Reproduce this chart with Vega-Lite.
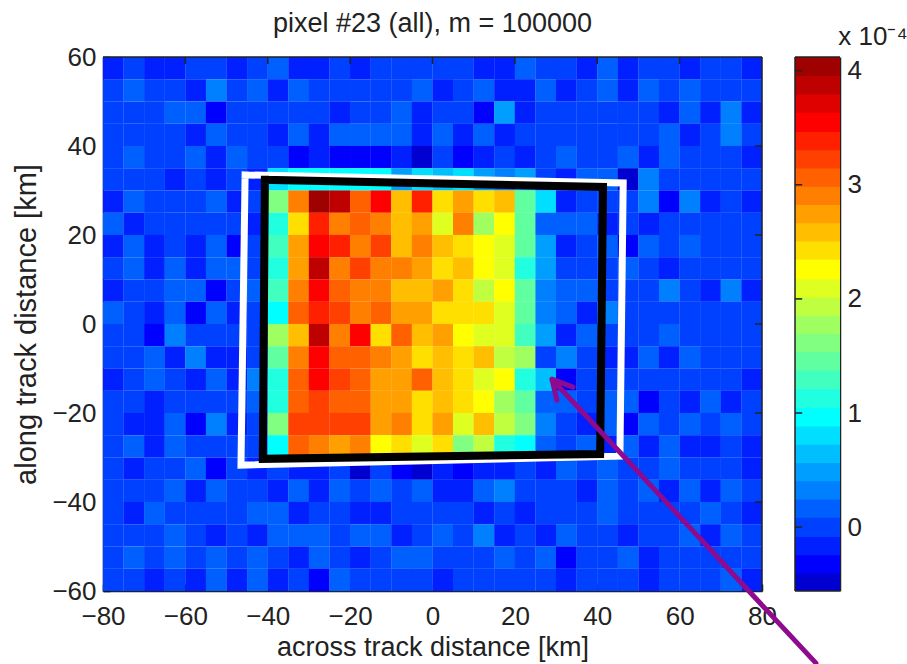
{"$schema":"https://vega.github.io/schema/vega-lite/v6.json","background":"white","padding":{"left":12,"top":10,"right":0,"bottom":0},"bounds":"flush","spacing":33,"config":{"view":{"stroke":null},"font":"Liberation Sans","axis":{"labelFont":"Liberation Sans","titleFont":"Liberation Sans","labelFontSize":26,"titleFontSize":27,"labelColor":"#222222","titleColor":"#222222","titleFontWeight":"normal","domainColor":"#222222","tickColor":"#111111","tickWidth":1.5,"domainWidth":1.5,"grid":false,"zindex":1},"title":{"font":"Liberation Sans","fontSize":27,"fontWeight":"normal","color":"#222222"}},
"hconcat":[{"width":659,"height":534,"title":{"text":"pixel #23 (all), m = 100000","anchor":"middle","offset":6},
"encoding":{"x":{"field":"x","type":"quantitative","scale":{"domain":[-80,80],"nice":false,"zero":false},"axis":{"orient":"bottom","values":[-80,-60,-40,-20,0,20,40,60,80],"tickSize":-7,"title":"across track distance [km]","titlePadding":5,"labelPadding":19,"labelFlush":false}},
"y":{"field":"y","type":"quantitative","scale":{"domain":[-60,60],"nice":false,"zero":false},"axis":{"orient":"left","values":[-60,-40,-20,0,20,40,60],"tickSize":-7,"title":"along track distance [km]","titleFontSize":29,"titlePadding":10,"labelPadding":14}}},
"layer":[
{"data":{"values":[
{"x":-77.5,"y":57.5,"v":-0.16},{"x":-72.5,"y":57.5,"v":0},{"x":-67.5,"y":57.5,"v":-0.16},{"x":-62.5,"y":57.5,"v":-0.16},{"x":-57.5,"y":57.5,"v":0},{"x":-52.5,"y":57.5,"v":0},{"x":-47.5,"y":57.5,"v":-0.16},{"x":-42.5,"y":57.5,"v":0},{"x":-37.5,"y":57.5,"v":0.17},{"x":-32.5,"y":57.5,"v":-0.16},{"x":-27.5,"y":57.5,"v":-0.16},{"x":-22.5,"y":57.5,"v":0},{"x":-17.5,"y":57.5,"v":-0.16},{"x":-12.5,"y":57.5,"v":0},{"x":-7.5,"y":57.5,"v":0},{"x":-2.5,"y":57.5,"v":0},{"x":2.5,"y":57.5,"v":0},{"x":7.5,"y":57.5,"v":0},{"x":12.5,"y":57.5,"v":-0.16},{"x":17.5,"y":57.5,"v":-0.16},{"x":22.5,"y":57.5,"v":0.17},{"x":27.5,"y":57.5,"v":0},{"x":32.5,"y":57.5,"v":0},{"x":37.5,"y":57.5,"v":-0.16},{"x":42.5,"y":57.5,"v":0.17},{"x":47.5,"y":57.5,"v":-0.16},{"x":52.5,"y":57.5,"v":0},{"x":57.5,"y":57.5,"v":0},{"x":62.5,"y":57.5,"v":-0.16},{"x":67.5,"y":57.5,"v":0},{"x":72.5,"y":57.5,"v":0},{"x":77.5,"y":57.5,"v":-0.16},
{"x":-77.5,"y":52.5,"v":0},{"x":-72.5,"y":52.5,"v":0.17},{"x":-67.5,"y":52.5,"v":0},{"x":-62.5,"y":52.5,"v":0},{"x":-57.5,"y":52.5,"v":-0.16},{"x":-52.5,"y":52.5,"v":0.33},{"x":-47.5,"y":52.5,"v":0},{"x":-42.5,"y":52.5,"v":0.17},{"x":-37.5,"y":52.5,"v":-0.16},{"x":-32.5,"y":52.5,"v":0.17},{"x":-27.5,"y":52.5,"v":0},{"x":-22.5,"y":52.5,"v":0},{"x":-17.5,"y":52.5,"v":0},{"x":-12.5,"y":52.5,"v":0},{"x":-7.5,"y":52.5,"v":0},{"x":-2.5,"y":52.5,"v":0.17},{"x":2.5,"y":52.5,"v":-0.16},{"x":7.5,"y":52.5,"v":0},{"x":12.5,"y":52.5,"v":0.17},{"x":17.5,"y":52.5,"v":-0.16},{"x":22.5,"y":52.5,"v":-0.16},{"x":27.5,"y":52.5,"v":0.17},{"x":32.5,"y":52.5,"v":-0.16},{"x":37.5,"y":52.5,"v":0},{"x":42.5,"y":52.5,"v":0.17},{"x":47.5,"y":52.5,"v":-0.16},{"x":52.5,"y":52.5,"v":0.17},{"x":57.5,"y":52.5,"v":0},{"x":62.5,"y":52.5,"v":0.17},{"x":67.5,"y":52.5,"v":0},{"x":72.5,"y":52.5,"v":0},{"x":77.5,"y":52.5,"v":0},
{"x":-77.5,"y":47.5,"v":0},{"x":-72.5,"y":47.5,"v":0},{"x":-67.5,"y":47.5,"v":0},{"x":-62.5,"y":47.5,"v":0.17},{"x":-57.5,"y":47.5,"v":0.17},{"x":-52.5,"y":47.5,"v":-0.32},{"x":-47.5,"y":47.5,"v":0},{"x":-42.5,"y":47.5,"v":0},{"x":-37.5,"y":47.5,"v":0},{"x":-32.5,"y":47.5,"v":0},{"x":-27.5,"y":47.5,"v":0},{"x":-22.5,"y":47.5,"v":-0.16},{"x":-17.5,"y":47.5,"v":0},{"x":-12.5,"y":47.5,"v":0},{"x":-7.5,"y":47.5,"v":0.17},{"x":-2.5,"y":47.5,"v":-0.16},{"x":2.5,"y":47.5,"v":0},{"x":7.5,"y":47.5,"v":0},{"x":12.5,"y":47.5,"v":-0.32},{"x":17.5,"y":47.5,"v":0.49},{"x":22.5,"y":47.5,"v":-0.16},{"x":27.5,"y":47.5,"v":0},{"x":32.5,"y":47.5,"v":0},{"x":37.5,"y":47.5,"v":0},{"x":42.5,"y":47.5,"v":0},{"x":47.5,"y":47.5,"v":0},{"x":52.5,"y":47.5,"v":0},{"x":57.5,"y":47.5,"v":-0.16},{"x":62.5,"y":47.5,"v":0.17},{"x":67.5,"y":47.5,"v":-0.16},{"x":72.5,"y":47.5,"v":0.33},{"x":77.5,"y":47.5,"v":-0.16},
{"x":-77.5,"y":42.5,"v":0},{"x":-72.5,"y":42.5,"v":0},{"x":-67.5,"y":42.5,"v":0},{"x":-62.5,"y":42.5,"v":0},{"x":-57.5,"y":42.5,"v":-0.16},{"x":-52.5,"y":42.5,"v":0.17},{"x":-47.5,"y":42.5,"v":0},{"x":-42.5,"y":42.5,"v":0},{"x":-37.5,"y":42.5,"v":-0.16},{"x":-32.5,"y":42.5,"v":0.17},{"x":-27.5,"y":42.5,"v":-0.16},{"x":-22.5,"y":42.5,"v":0.17},{"x":-17.5,"y":42.5,"v":0.17},{"x":-12.5,"y":42.5,"v":0.17},{"x":-7.5,"y":42.5,"v":0.17},{"x":-2.5,"y":42.5,"v":-0.16},{"x":2.5,"y":42.5,"v":0.17},{"x":7.5,"y":42.5,"v":-0.16},{"x":12.5,"y":42.5,"v":0.17},{"x":17.5,"y":42.5,"v":-0.16},{"x":22.5,"y":42.5,"v":0},{"x":27.5,"y":42.5,"v":0},{"x":32.5,"y":42.5,"v":0},{"x":37.5,"y":42.5,"v":0},{"x":42.5,"y":42.5,"v":0},{"x":47.5,"y":42.5,"v":0},{"x":52.5,"y":42.5,"v":0},{"x":57.5,"y":42.5,"v":0.17},{"x":62.5,"y":42.5,"v":-0.16},{"x":67.5,"y":42.5,"v":0},{"x":72.5,"y":42.5,"v":0.33},{"x":77.5,"y":42.5,"v":0},
{"x":-77.5,"y":37.5,"v":0},{"x":-72.5,"y":37.5,"v":0.17},{"x":-67.5,"y":37.5,"v":0},{"x":-62.5,"y":37.5,"v":0},{"x":-57.5,"y":37.5,"v":0.17},{"x":-52.5,"y":37.5,"v":-0.16},{"x":-47.5,"y":37.5,"v":0.17},{"x":-42.5,"y":37.5,"v":0},{"x":-37.5,"y":37.5,"v":0},{"x":-32.5,"y":37.5,"v":-0.32},{"x":-27.5,"y":37.5,"v":-0.16},{"x":-22.5,"y":37.5,"v":-0.32},{"x":-17.5,"y":37.5,"v":-0.32},{"x":-12.5,"y":37.5,"v":-0.32},{"x":-7.5,"y":37.5,"v":-0.16},{"x":-2.5,"y":37.5,"v":-0.48},{"x":2.5,"y":37.5,"v":0},{"x":7.5,"y":37.5,"v":-0.32},{"x":12.5,"y":37.5,"v":-0.16},{"x":17.5,"y":37.5,"v":0},{"x":22.5,"y":37.5,"v":-0.16},{"x":27.5,"y":37.5,"v":0},{"x":32.5,"y":37.5,"v":0.17},{"x":37.5,"y":37.5,"v":0},{"x":42.5,"y":37.5,"v":0},{"x":47.5,"y":37.5,"v":0.17},{"x":52.5,"y":37.5,"v":-0.16},{"x":57.5,"y":37.5,"v":0.17},{"x":62.5,"y":37.5,"v":0},{"x":67.5,"y":37.5,"v":0},{"x":72.5,"y":37.5,"v":0},{"x":77.5,"y":37.5,"v":-0.16},
{"x":-77.5,"y":32.5,"v":0},{"x":-72.5,"y":32.5,"v":0},{"x":-67.5,"y":32.5,"v":0},{"x":-62.5,"y":32.5,"v":-0.16},{"x":-57.5,"y":32.5,"v":0},{"x":-52.5,"y":32.5,"v":-0.16},{"x":-47.5,"y":32.5,"v":0},{"x":-42.5,"y":32.5,"v":-0.16},{"x":-37.5,"y":32.5,"v":0.81},{"x":-32.5,"y":32.5,"v":0.97},{"x":-27.5,"y":32.5,"v":0.97},{"x":-22.5,"y":32.5,"v":0.97},{"x":-17.5,"y":32.5,"v":0.97},{"x":-12.5,"y":32.5,"v":0.97},{"x":-7.5,"y":32.5,"v":0.49},{"x":-2.5,"y":32.5,"v":0.81},{"x":2.5,"y":32.5,"v":0.65},{"x":7.5,"y":32.5,"v":0.81},{"x":12.5,"y":32.5,"v":0.49},{"x":17.5,"y":32.5,"v":0.33},{"x":22.5,"y":32.5,"v":0.49},{"x":27.5,"y":32.5,"v":0},{"x":32.5,"y":32.5,"v":-0.16},{"x":37.5,"y":32.5,"v":0.17},{"x":42.5,"y":32.5,"v":0.17},{"x":47.5,"y":32.5,"v":-0.48},{"x":52.5,"y":32.5,"v":0.33},{"x":57.5,"y":32.5,"v":0},{"x":62.5,"y":32.5,"v":0},{"x":67.5,"y":32.5,"v":0},{"x":72.5,"y":32.5,"v":0},{"x":77.5,"y":32.5,"v":0},
{"x":-77.5,"y":27.5,"v":-0.16},{"x":-72.5,"y":27.5,"v":0.17},{"x":-67.5,"y":27.5,"v":0},{"x":-62.5,"y":27.5,"v":0},{"x":-57.5,"y":27.5,"v":0},{"x":-52.5,"y":27.5,"v":0.17},{"x":-47.5,"y":27.5,"v":-0.16},{"x":-42.5,"y":27.5,"v":0},{"x":-37.5,"y":27.5,"v":1.62},{"x":-32.5,"y":27.5,"v":2.91},{"x":-27.5,"y":27.5,"v":4.04},{"x":-22.5,"y":27.5,"v":3.88},{"x":-17.5,"y":27.5,"v":3.07},{"x":-12.5,"y":27.5,"v":3.55},{"x":-7.5,"y":27.5,"v":2.59},{"x":-2.5,"y":27.5,"v":3.39},{"x":2.5,"y":27.5,"v":2.43},{"x":7.5,"y":27.5,"v":2.75},{"x":12.5,"y":27.5,"v":2.43},{"x":17.5,"y":27.5,"v":2.59},{"x":22.5,"y":27.5,"v":1.46},{"x":27.5,"y":27.5,"v":0.81},{"x":32.5,"y":27.5,"v":-0.16},{"x":37.5,"y":27.5,"v":0},{"x":42.5,"y":27.5,"v":0},{"x":47.5,"y":27.5,"v":0},{"x":52.5,"y":27.5,"v":0.33},{"x":57.5,"y":27.5,"v":-0.32},{"x":62.5,"y":27.5,"v":0.33},{"x":67.5,"y":27.5,"v":-0.16},{"x":72.5,"y":27.5,"v":0},{"x":77.5,"y":27.5,"v":-0.16},
{"x":-77.5,"y":22.5,"v":0.17},{"x":-72.5,"y":22.5,"v":-0.16},{"x":-67.5,"y":22.5,"v":0},{"x":-62.5,"y":22.5,"v":0},{"x":-57.5,"y":22.5,"v":0},{"x":-52.5,"y":22.5,"v":0},{"x":-47.5,"y":22.5,"v":0},{"x":-42.5,"y":22.5,"v":-0.16},{"x":-37.5,"y":22.5,"v":1.13},{"x":-32.5,"y":22.5,"v":2.43},{"x":-27.5,"y":22.5,"v":3.39},{"x":-22.5,"y":22.5,"v":2.91},{"x":-17.5,"y":22.5,"v":3.07},{"x":-12.5,"y":22.5,"v":2.91},{"x":-7.5,"y":22.5,"v":2.59},{"x":-2.5,"y":22.5,"v":2.75},{"x":2.5,"y":22.5,"v":2.1},{"x":7.5,"y":22.5,"v":2.91},{"x":12.5,"y":22.5,"v":1.78},{"x":17.5,"y":22.5,"v":2.26},{"x":22.5,"y":22.5,"v":1.46},{"x":27.5,"y":22.5,"v":0.17},{"x":32.5,"y":22.5,"v":0.17},{"x":37.5,"y":22.5,"v":0.17},{"x":42.5,"y":22.5,"v":-0.16},{"x":47.5,"y":22.5,"v":0},{"x":52.5,"y":22.5,"v":-0.16},{"x":57.5,"y":22.5,"v":0},{"x":62.5,"y":22.5,"v":0},{"x":67.5,"y":22.5,"v":0},{"x":72.5,"y":22.5,"v":0},{"x":77.5,"y":22.5,"v":0},
{"x":-77.5,"y":17.5,"v":-0.16},{"x":-72.5,"y":17.5,"v":0.17},{"x":-67.5,"y":17.5,"v":-0.16},{"x":-62.5,"y":17.5,"v":0},{"x":-57.5,"y":17.5,"v":-0.16},{"x":-52.5,"y":17.5,"v":0.17},{"x":-47.5,"y":17.5,"v":-0.32},{"x":-42.5,"y":17.5,"v":0},{"x":-37.5,"y":17.5,"v":1.3},{"x":-32.5,"y":17.5,"v":2.75},{"x":-27.5,"y":17.5,"v":3.55},{"x":-22.5,"y":17.5,"v":3.39},{"x":-17.5,"y":17.5,"v":2.91},{"x":-12.5,"y":17.5,"v":3.23},{"x":-7.5,"y":17.5,"v":2.59},{"x":-2.5,"y":17.5,"v":2.91},{"x":2.5,"y":17.5,"v":2.59},{"x":7.5,"y":17.5,"v":2.43},{"x":12.5,"y":17.5,"v":2.26},{"x":17.5,"y":17.5,"v":2.1},{"x":22.5,"y":17.5,"v":1.46},{"x":27.5,"y":17.5,"v":0.49},{"x":32.5,"y":17.5,"v":-0.16},{"x":37.5,"y":17.5,"v":0},{"x":42.5,"y":17.5,"v":0.17},{"x":47.5,"y":17.5,"v":-0.32},{"x":52.5,"y":17.5,"v":0.17},{"x":57.5,"y":17.5,"v":0},{"x":62.5,"y":17.5,"v":0.17},{"x":67.5,"y":17.5,"v":0},{"x":72.5,"y":17.5,"v":0},{"x":77.5,"y":17.5,"v":0},
{"x":-77.5,"y":12.5,"v":0},{"x":-72.5,"y":12.5,"v":0.17},{"x":-67.5,"y":12.5,"v":-0.16},{"x":-62.5,"y":12.5,"v":0.17},{"x":-57.5,"y":12.5,"v":-0.16},{"x":-52.5,"y":12.5,"v":0.17},{"x":-47.5,"y":12.5,"v":0.17},{"x":-42.5,"y":12.5,"v":0},{"x":-37.5,"y":12.5,"v":1.13},{"x":-32.5,"y":12.5,"v":2.75},{"x":-27.5,"y":12.5,"v":3.88},{"x":-22.5,"y":12.5,"v":2.91},{"x":-17.5,"y":12.5,"v":3.23},{"x":-12.5,"y":12.5,"v":2.91},{"x":-7.5,"y":12.5,"v":2.91},{"x":-2.5,"y":12.5,"v":2.75},{"x":2.5,"y":12.5,"v":2.43},{"x":7.5,"y":12.5,"v":2.59},{"x":12.5,"y":12.5,"v":2.26},{"x":17.5,"y":12.5,"v":2.1},{"x":22.5,"y":12.5,"v":1.13},{"x":27.5,"y":12.5,"v":0.49},{"x":32.5,"y":12.5,"v":0},{"x":37.5,"y":12.5,"v":0},{"x":42.5,"y":12.5,"v":0},{"x":47.5,"y":12.5,"v":0.17},{"x":52.5,"y":12.5,"v":0},{"x":57.5,"y":12.5,"v":-0.16},{"x":62.5,"y":12.5,"v":0},{"x":67.5,"y":12.5,"v":0},{"x":72.5,"y":12.5,"v":0},{"x":77.5,"y":12.5,"v":0},
{"x":-77.5,"y":7.5,"v":-0.16},{"x":-72.5,"y":7.5,"v":0},{"x":-67.5,"y":7.5,"v":0},{"x":-62.5,"y":7.5,"v":0.17},{"x":-57.5,"y":7.5,"v":0.17},{"x":-52.5,"y":7.5,"v":-0.32},{"x":-47.5,"y":7.5,"v":0},{"x":-42.5,"y":7.5,"v":0.17},{"x":-37.5,"y":7.5,"v":1.3},{"x":-32.5,"y":7.5,"v":2.91},{"x":-27.5,"y":7.5,"v":3.55},{"x":-22.5,"y":7.5,"v":3.07},{"x":-17.5,"y":7.5,"v":2.91},{"x":-12.5,"y":7.5,"v":2.91},{"x":-7.5,"y":7.5,"v":2.59},{"x":-2.5,"y":7.5,"v":2.59},{"x":2.5,"y":7.5,"v":2.75},{"x":7.5,"y":7.5,"v":2.43},{"x":12.5,"y":7.5,"v":1.94},{"x":17.5,"y":7.5,"v":2.26},{"x":22.5,"y":7.5,"v":1.46},{"x":27.5,"y":7.5,"v":0.33},{"x":32.5,"y":7.5,"v":0.17},{"x":37.5,"y":7.5,"v":0.17},{"x":42.5,"y":7.5,"v":0},{"x":47.5,"y":7.5,"v":0},{"x":52.5,"y":7.5,"v":0},{"x":57.5,"y":7.5,"v":0.33},{"x":62.5,"y":7.5,"v":0},{"x":67.5,"y":7.5,"v":-0.16},{"x":72.5,"y":7.5,"v":0.33},{"x":77.5,"y":7.5,"v":-0.16},
{"x":-77.5,"y":2.5,"v":0.17},{"x":-72.5,"y":2.5,"v":0},{"x":-67.5,"y":2.5,"v":-0.16},{"x":-62.5,"y":2.5,"v":0.17},{"x":-57.5,"y":2.5,"v":-0.32},{"x":-52.5,"y":2.5,"v":0.17},{"x":-47.5,"y":2.5,"v":-0.16},{"x":-42.5,"y":2.5,"v":0},{"x":-37.5,"y":2.5,"v":0.97},{"x":-32.5,"y":2.5,"v":3.07},{"x":-27.5,"y":2.5,"v":3.39},{"x":-22.5,"y":2.5,"v":3.23},{"x":-17.5,"y":2.5,"v":2.91},{"x":-12.5,"y":2.5,"v":3.07},{"x":-7.5,"y":2.5,"v":2.75},{"x":-2.5,"y":2.5,"v":2.75},{"x":2.5,"y":2.5,"v":2.43},{"x":7.5,"y":2.5,"v":2.43},{"x":12.5,"y":2.5,"v":2.43},{"x":17.5,"y":2.5,"v":2.1},{"x":22.5,"y":2.5,"v":1.46},{"x":27.5,"y":2.5,"v":0.33},{"x":32.5,"y":2.5,"v":0.17},{"x":37.5,"y":2.5,"v":-0.16},{"x":42.5,"y":2.5,"v":0.33},{"x":47.5,"y":2.5,"v":0},{"x":52.5,"y":2.5,"v":0},{"x":57.5,"y":2.5,"v":0},{"x":62.5,"y":2.5,"v":0},{"x":67.5,"y":2.5,"v":0},{"x":72.5,"y":2.5,"v":0},{"x":77.5,"y":2.5,"v":0},
{"x":-77.5,"y":-2.5,"v":0},{"x":-72.5,"y":-2.5,"v":0},{"x":-67.5,"y":-2.5,"v":-0.32},{"x":-62.5,"y":-2.5,"v":0.33},{"x":-57.5,"y":-2.5,"v":0},{"x":-52.5,"y":-2.5,"v":0},{"x":-47.5,"y":-2.5,"v":0},{"x":-42.5,"y":-2.5,"v":0},{"x":-37.5,"y":-2.5,"v":1.78},{"x":-32.5,"y":-2.5,"v":2.59},{"x":-27.5,"y":-2.5,"v":3.88},{"x":-22.5,"y":-2.5,"v":2.91},{"x":-17.5,"y":-2.5,"v":3.55},{"x":-12.5,"y":-2.5,"v":2.43},{"x":-7.5,"y":-2.5,"v":3.07},{"x":-2.5,"y":-2.5,"v":2.59},{"x":2.5,"y":-2.5,"v":2.75},{"x":7.5,"y":-2.5,"v":2.26},{"x":12.5,"y":-2.5,"v":2.1},{"x":17.5,"y":-2.5,"v":2.1},{"x":22.5,"y":-2.5,"v":1.3},{"x":27.5,"y":-2.5,"v":0.49},{"x":32.5,"y":-2.5,"v":-0.16},{"x":37.5,"y":-2.5,"v":0.17},{"x":42.5,"y":-2.5,"v":0},{"x":47.5,"y":-2.5,"v":0},{"x":52.5,"y":-2.5,"v":0},{"x":57.5,"y":-2.5,"v":0.17},{"x":62.5,"y":-2.5,"v":0},{"x":67.5,"y":-2.5,"v":0},{"x":72.5,"y":-2.5,"v":0},{"x":77.5,"y":-2.5,"v":0},
{"x":-77.5,"y":-7.5,"v":0},{"x":-72.5,"y":-7.5,"v":0},{"x":-67.5,"y":-7.5,"v":0.17},{"x":-62.5,"y":-7.5,"v":-0.16},{"x":-57.5,"y":-7.5,"v":0.33},{"x":-52.5,"y":-7.5,"v":-0.16},{"x":-47.5,"y":-7.5,"v":-0.16},{"x":-42.5,"y":-7.5,"v":0},{"x":-37.5,"y":-7.5,"v":1.46},{"x":-32.5,"y":-7.5,"v":2.91},{"x":-27.5,"y":-7.5,"v":3.55},{"x":-22.5,"y":-7.5,"v":3.07},{"x":-17.5,"y":-7.5,"v":3.07},{"x":-12.5,"y":-7.5,"v":2.91},{"x":-7.5,"y":-7.5,"v":2.75},{"x":-2.5,"y":-7.5,"v":2.43},{"x":2.5,"y":-7.5,"v":2.59},{"x":7.5,"y":-7.5,"v":2.43},{"x":12.5,"y":-7.5,"v":2.59},{"x":17.5,"y":-7.5,"v":1.94},{"x":22.5,"y":-7.5,"v":1.78},{"x":27.5,"y":-7.5,"v":0},{"x":32.5,"y":-7.5,"v":0.33},{"x":37.5,"y":-7.5,"v":0},{"x":42.5,"y":-7.5,"v":-0.16},{"x":47.5,"y":-7.5,"v":-0.16},{"x":52.5,"y":-7.5,"v":0.17},{"x":57.5,"y":-7.5,"v":-0.16},{"x":62.5,"y":-7.5,"v":0.17},{"x":67.5,"y":-7.5,"v":0},{"x":72.5,"y":-7.5,"v":0},{"x":77.5,"y":-7.5,"v":0},
{"x":-77.5,"y":-12.5,"v":-0.16},{"x":-72.5,"y":-12.5,"v":0},{"x":-67.5,"y":-12.5,"v":0.17},{"x":-62.5,"y":-12.5,"v":0},{"x":-57.5,"y":-12.5,"v":-0.16},{"x":-52.5,"y":-12.5,"v":0.17},{"x":-47.5,"y":-12.5,"v":-0.16},{"x":-42.5,"y":-12.5,"v":0.33},{"x":-37.5,"y":-12.5,"v":1.13},{"x":-32.5,"y":-12.5,"v":3.07},{"x":-27.5,"y":-12.5,"v":3.55},{"x":-22.5,"y":-12.5,"v":3.23},{"x":-17.5,"y":-12.5,"v":3.07},{"x":-12.5,"y":-12.5,"v":2.75},{"x":-7.5,"y":-12.5,"v":2.75},{"x":-2.5,"y":-12.5,"v":3.07},{"x":2.5,"y":-12.5,"v":2.59},{"x":7.5,"y":-12.5,"v":2.43},{"x":12.5,"y":-12.5,"v":2.1},{"x":17.5,"y":-12.5,"v":2.26},{"x":22.5,"y":-12.5,"v":1.13},{"x":27.5,"y":-12.5,"v":0.65},{"x":32.5,"y":-12.5,"v":-0.32},{"x":37.5,"y":-12.5,"v":0},{"x":42.5,"y":-12.5,"v":0},{"x":47.5,"y":-12.5,"v":0},{"x":52.5,"y":-12.5,"v":0},{"x":57.5,"y":-12.5,"v":0},{"x":62.5,"y":-12.5,"v":0},{"x":67.5,"y":-12.5,"v":0},{"x":72.5,"y":-12.5,"v":0},{"x":77.5,"y":-12.5,"v":-0.16},
{"x":-77.5,"y":-17.5,"v":0},{"x":-72.5,"y":-17.5,"v":0},{"x":-67.5,"y":-17.5,"v":-0.16},{"x":-62.5,"y":-17.5,"v":0},{"x":-57.5,"y":-17.5,"v":0},{"x":-52.5,"y":-17.5,"v":0},{"x":-47.5,"y":-17.5,"v":0},{"x":-42.5,"y":-17.5,"v":0.17},{"x":-37.5,"y":-17.5,"v":1.13},{"x":-32.5,"y":-17.5,"v":3.07},{"x":-27.5,"y":-17.5,"v":3.23},{"x":-22.5,"y":-17.5,"v":3.07},{"x":-17.5,"y":-17.5,"v":3.07},{"x":-12.5,"y":-17.5,"v":2.75},{"x":-7.5,"y":-17.5,"v":2.75},{"x":-2.5,"y":-17.5,"v":2.43},{"x":2.5,"y":-17.5,"v":2.59},{"x":7.5,"y":-17.5,"v":2.43},{"x":12.5,"y":-17.5,"v":2.26},{"x":17.5,"y":-17.5,"v":1.78},{"x":22.5,"y":-17.5,"v":1.46},{"x":27.5,"y":-17.5,"v":0.17},{"x":32.5,"y":-17.5,"v":0.17},{"x":37.5,"y":-17.5,"v":0},{"x":42.5,"y":-17.5,"v":0.17},{"x":47.5,"y":-17.5,"v":0.17},{"x":52.5,"y":-17.5,"v":-0.32},{"x":57.5,"y":-17.5,"v":0},{"x":62.5,"y":-17.5,"v":-0.16},{"x":67.5,"y":-17.5,"v":0.17},{"x":72.5,"y":-17.5,"v":-0.16},{"x":77.5,"y":-17.5,"v":0},
{"x":-77.5,"y":-22.5,"v":0},{"x":-72.5,"y":-22.5,"v":-0.16},{"x":-67.5,"y":-22.5,"v":-0.16},{"x":-62.5,"y":-22.5,"v":0.17},{"x":-57.5,"y":-22.5,"v":-0.32},{"x":-52.5,"y":-22.5,"v":0.33},{"x":-47.5,"y":-22.5,"v":-0.16},{"x":-42.5,"y":-22.5,"v":0},{"x":-37.5,"y":-22.5,"v":1.62},{"x":-32.5,"y":-22.5,"v":3.23},{"x":-27.5,"y":-22.5,"v":3.23},{"x":-22.5,"y":-22.5,"v":3.23},{"x":-17.5,"y":-22.5,"v":3.23},{"x":-12.5,"y":-22.5,"v":2.75},{"x":-7.5,"y":-22.5,"v":2.91},{"x":-2.5,"y":-22.5,"v":2.43},{"x":2.5,"y":-22.5,"v":2.75},{"x":7.5,"y":-22.5,"v":2.1},{"x":12.5,"y":-22.5,"v":2.59},{"x":17.5,"y":-22.5,"v":1.94},{"x":22.5,"y":-22.5,"v":1.62},{"x":27.5,"y":-22.5,"v":0.33},{"x":32.5,"y":-22.5,"v":0},{"x":37.5,"y":-22.5,"v":-0.16},{"x":42.5,"y":-22.5,"v":0.17},{"x":47.5,"y":-22.5,"v":-0.32},{"x":52.5,"y":-22.5,"v":0.17},{"x":57.5,"y":-22.5,"v":0},{"x":62.5,"y":-22.5,"v":0.17},{"x":67.5,"y":-22.5,"v":0},{"x":72.5,"y":-22.5,"v":0.17},{"x":77.5,"y":-22.5,"v":0},
{"x":-77.5,"y":-27.5,"v":0},{"x":-72.5,"y":-27.5,"v":0.17},{"x":-67.5,"y":-27.5,"v":-0.16},{"x":-62.5,"y":-27.5,"v":0.17},{"x":-57.5,"y":-27.5,"v":0},{"x":-52.5,"y":-27.5,"v":0},{"x":-47.5,"y":-27.5,"v":0},{"x":-42.5,"y":-27.5,"v":0},{"x":-37.5,"y":-27.5,"v":0.97},{"x":-32.5,"y":-27.5,"v":3.07},{"x":-27.5,"y":-27.5,"v":2.91},{"x":-22.5,"y":-27.5,"v":2.75},{"x":-17.5,"y":-27.5,"v":2.91},{"x":-12.5,"y":-27.5,"v":2.26},{"x":-7.5,"y":-27.5,"v":2.43},{"x":-2.5,"y":-27.5,"v":2.1},{"x":2.5,"y":-27.5,"v":2.43},{"x":7.5,"y":-27.5,"v":1.62},{"x":12.5,"y":-27.5,"v":1.94},{"x":17.5,"y":-27.5,"v":1.13},{"x":22.5,"y":-27.5,"v":0.97},{"x":27.5,"y":-27.5,"v":0.17},{"x":32.5,"y":-27.5,"v":0},{"x":37.5,"y":-27.5,"v":0.17},{"x":42.5,"y":-27.5,"v":-0.16},{"x":47.5,"y":-27.5,"v":0.17},{"x":52.5,"y":-27.5,"v":-0.16},{"x":57.5,"y":-27.5,"v":0.17},{"x":62.5,"y":-27.5,"v":-0.16},{"x":67.5,"y":-27.5,"v":-0.16},{"x":72.5,"y":-27.5,"v":0},{"x":77.5,"y":-27.5,"v":-0.16},
{"x":-77.5,"y":-32.5,"v":0},{"x":-72.5,"y":-32.5,"v":-0.16},{"x":-67.5,"y":-32.5,"v":0},{"x":-62.5,"y":-32.5,"v":0},{"x":-57.5,"y":-32.5,"v":0.17},{"x":-52.5,"y":-32.5,"v":-0.32},{"x":-47.5,"y":-32.5,"v":0},{"x":-42.5,"y":-32.5,"v":-0.16},{"x":-37.5,"y":-32.5,"v":0},{"x":-32.5,"y":-32.5,"v":-0.16},{"x":-27.5,"y":-32.5,"v":-0.16},{"x":-22.5,"y":-32.5,"v":0},{"x":-17.5,"y":-32.5,"v":-0.48},{"x":-12.5,"y":-32.5,"v":0},{"x":-7.5,"y":-32.5,"v":-0.32},{"x":-2.5,"y":-32.5,"v":-0.48},{"x":2.5,"y":-32.5,"v":-0.16},{"x":7.5,"y":-32.5,"v":-0.32},{"x":12.5,"y":-32.5,"v":-0.16},{"x":17.5,"y":-32.5,"v":-0.16},{"x":22.5,"y":-32.5,"v":0},{"x":27.5,"y":-32.5,"v":-0.16},{"x":32.5,"y":-32.5,"v":0.17},{"x":37.5,"y":-32.5,"v":0},{"x":42.5,"y":-32.5,"v":0.17},{"x":47.5,"y":-32.5,"v":0},{"x":52.5,"y":-32.5,"v":0},{"x":57.5,"y":-32.5,"v":0.17},{"x":62.5,"y":-32.5,"v":0},{"x":67.5,"y":-32.5,"v":0},{"x":72.5,"y":-32.5,"v":0},{"x":77.5,"y":-32.5,"v":-0.16},
{"x":-77.5,"y":-37.5,"v":0},{"x":-72.5,"y":-37.5,"v":0},{"x":-67.5,"y":-37.5,"v":0},{"x":-62.5,"y":-37.5,"v":0.17},{"x":-57.5,"y":-37.5,"v":-0.16},{"x":-52.5,"y":-37.5,"v":0.17},{"x":-47.5,"y":-37.5,"v":0},{"x":-42.5,"y":-37.5,"v":0},{"x":-37.5,"y":-37.5,"v":-0.16},{"x":-32.5,"y":-37.5,"v":0.17},{"x":-27.5,"y":-37.5,"v":-0.16},{"x":-22.5,"y":-37.5,"v":0.17},{"x":-17.5,"y":-37.5,"v":0},{"x":-12.5,"y":-37.5,"v":0.17},{"x":-7.5,"y":-37.5,"v":0},{"x":-2.5,"y":-37.5,"v":0.17},{"x":2.5,"y":-37.5,"v":-0.16},{"x":7.5,"y":-37.5,"v":-0.16},{"x":12.5,"y":-37.5,"v":0.17},{"x":17.5,"y":-37.5,"v":0.33},{"x":22.5,"y":-37.5,"v":0},{"x":27.5,"y":-37.5,"v":0},{"x":32.5,"y":-37.5,"v":0},{"x":37.5,"y":-37.5,"v":-0.16},{"x":42.5,"y":-37.5,"v":0.17},{"x":47.5,"y":-37.5,"v":0},{"x":52.5,"y":-37.5,"v":0.17},{"x":57.5,"y":-37.5,"v":-0.16},{"x":62.5,"y":-37.5,"v":0.17},{"x":67.5,"y":-37.5,"v":-0.16},{"x":72.5,"y":-37.5,"v":0.17},{"x":77.5,"y":-37.5,"v":0},
{"x":-77.5,"y":-42.5,"v":0},{"x":-72.5,"y":-42.5,"v":-0.16},{"x":-67.5,"y":-42.5,"v":0.17},{"x":-62.5,"y":-42.5,"v":0},{"x":-57.5,"y":-42.5,"v":0},{"x":-52.5,"y":-42.5,"v":0},{"x":-47.5,"y":-42.5,"v":0},{"x":-42.5,"y":-42.5,"v":0.17},{"x":-37.5,"y":-42.5,"v":0.17},{"x":-32.5,"y":-42.5,"v":-0.16},{"x":-27.5,"y":-42.5,"v":0},{"x":-22.5,"y":-42.5,"v":0},{"x":-17.5,"y":-42.5,"v":-0.16},{"x":-12.5,"y":-42.5,"v":-0.16},{"x":-7.5,"y":-42.5,"v":0},{"x":-2.5,"y":-42.5,"v":0},{"x":2.5,"y":-42.5,"v":0},{"x":7.5,"y":-42.5,"v":0},{"x":12.5,"y":-42.5,"v":-0.16},{"x":17.5,"y":-42.5,"v":0},{"x":22.5,"y":-42.5,"v":-0.16},{"x":27.5,"y":-42.5,"v":0},{"x":32.5,"y":-42.5,"v":0},{"x":37.5,"y":-42.5,"v":0},{"x":42.5,"y":-42.5,"v":0.17},{"x":47.5,"y":-42.5,"v":0},{"x":52.5,"y":-42.5,"v":0},{"x":57.5,"y":-42.5,"v":0},{"x":62.5,"y":-42.5,"v":0},{"x":67.5,"y":-42.5,"v":0.17},{"x":72.5,"y":-42.5,"v":0},{"x":77.5,"y":-42.5,"v":-0.16},
{"x":-77.5,"y":-47.5,"v":0},{"x":-72.5,"y":-47.5,"v":0},{"x":-67.5,"y":-47.5,"v":0},{"x":-62.5,"y":-47.5,"v":0.17},{"x":-57.5,"y":-47.5,"v":0},{"x":-52.5,"y":-47.5,"v":-0.16},{"x":-47.5,"y":-47.5,"v":0},{"x":-42.5,"y":-47.5,"v":-0.16},{"x":-37.5,"y":-47.5,"v":0.17},{"x":-32.5,"y":-47.5,"v":0.17},{"x":-27.5,"y":-47.5,"v":0.17},{"x":-22.5,"y":-47.5,"v":0},{"x":-17.5,"y":-47.5,"v":0.17},{"x":-12.5,"y":-47.5,"v":0.17},{"x":-7.5,"y":-47.5,"v":-0.16},{"x":-2.5,"y":-47.5,"v":0},{"x":2.5,"y":-47.5,"v":0.17},{"x":7.5,"y":-47.5,"v":0},{"x":12.5,"y":-47.5,"v":0.33},{"x":17.5,"y":-47.5,"v":-0.16},{"x":22.5,"y":-47.5,"v":0},{"x":27.5,"y":-47.5,"v":-0.16},{"x":32.5,"y":-47.5,"v":0.17},{"x":37.5,"y":-47.5,"v":0},{"x":42.5,"y":-47.5,"v":0},{"x":47.5,"y":-47.5,"v":-0.16},{"x":52.5,"y":-47.5,"v":0},{"x":57.5,"y":-47.5,"v":0},{"x":62.5,"y":-47.5,"v":0.17},{"x":67.5,"y":-47.5,"v":-0.16},{"x":72.5,"y":-47.5,"v":0.17},{"x":77.5,"y":-47.5,"v":0},
{"x":-77.5,"y":-52.5,"v":0},{"x":-72.5,"y":-52.5,"v":0.17},{"x":-67.5,"y":-52.5,"v":0},{"x":-62.5,"y":-52.5,"v":0.17},{"x":-57.5,"y":-52.5,"v":0},{"x":-52.5,"y":-52.5,"v":0.17},{"x":-47.5,"y":-52.5,"v":0},{"x":-42.5,"y":-52.5,"v":0.17},{"x":-37.5,"y":-52.5,"v":0},{"x":-32.5,"y":-52.5,"v":-0.16},{"x":-27.5,"y":-52.5,"v":0.17},{"x":-22.5,"y":-52.5,"v":0},{"x":-17.5,"y":-52.5,"v":-0.16},{"x":-12.5,"y":-52.5,"v":0},{"x":-7.5,"y":-52.5,"v":0.17},{"x":-2.5,"y":-52.5,"v":0.17},{"x":2.5,"y":-52.5,"v":0},{"x":7.5,"y":-52.5,"v":0},{"x":12.5,"y":-52.5,"v":0},{"x":17.5,"y":-52.5,"v":0.17},{"x":22.5,"y":-52.5,"v":0},{"x":27.5,"y":-52.5,"v":0.17},{"x":32.5,"y":-52.5,"v":-0.32},{"x":37.5,"y":-52.5,"v":0},{"x":42.5,"y":-52.5,"v":0},{"x":47.5,"y":-52.5,"v":0.17},{"x":52.5,"y":-52.5,"v":-0.16},{"x":57.5,"y":-52.5,"v":0},{"x":62.5,"y":-52.5,"v":0},{"x":67.5,"y":-52.5,"v":0},{"x":72.5,"y":-52.5,"v":0},{"x":77.5,"y":-52.5,"v":0},
{"x":-77.5,"y":-57.5,"v":0},{"x":-72.5,"y":-57.5,"v":0},{"x":-67.5,"y":-57.5,"v":-0.16},{"x":-62.5,"y":-57.5,"v":0},{"x":-57.5,"y":-57.5,"v":-0.16},{"x":-52.5,"y":-57.5,"v":0.17},{"x":-47.5,"y":-57.5,"v":-0.16},{"x":-42.5,"y":-57.5,"v":0.17},{"x":-37.5,"y":-57.5,"v":-0.16},{"x":-32.5,"y":-57.5,"v":0},{"x":-27.5,"y":-57.5,"v":-0.32},{"x":-22.5,"y":-57.5,"v":0.17},{"x":-17.5,"y":-57.5,"v":0},{"x":-12.5,"y":-57.5,"v":0},{"x":-7.5,"y":-57.5,"v":0},{"x":-2.5,"y":-57.5,"v":0},{"x":2.5,"y":-57.5,"v":-0.16},{"x":7.5,"y":-57.5,"v":0},{"x":12.5,"y":-57.5,"v":0},{"x":17.5,"y":-57.5,"v":0},{"x":22.5,"y":-57.5,"v":0},{"x":27.5,"y":-57.5,"v":0},{"x":32.5,"y":-57.5,"v":-0.16},{"x":37.5,"y":-57.5,"v":0},{"x":42.5,"y":-57.5,"v":0},{"x":47.5,"y":-57.5,"v":0},{"x":52.5,"y":-57.5,"v":-0.16},{"x":57.5,"y":-57.5,"v":0},{"x":62.5,"y":-57.5,"v":0},{"x":67.5,"y":-57.5,"v":0},{"x":72.5,"y":-57.5,"v":0.17},{"x":77.5,"y":-57.5,"v":-0.16}
]},"mark":{"type":"rect","width":20.8,"height":22.4},"encoding":{
"color":{"field":"v","type":"quantitative","scale":{"type":"quantize","domain":[-0.56,4.12],"range":["#0000D0","#0000FF","#0020FF","#0040FF","#0060FF","#0080FF","#009FFF","#00BFFF","#00DFFF","#00FFFF","#20FFDF","#40FFBF","#60FFA0","#80FF80","#9FFF60","#BFFF40","#DFFF20","#FFFF00","#FFDF00","#FFBF00","#FF9F00","#FF8000","#FF6000","#FF4000","#FF2000","#FF0000","#DF0000","#BF0000","#9F0000"]},"legend":null}}},
{"data":{"values":[{"i":0,"x":-45.5,"y":33.5},{"i":1,"x":46.3,"y":31.7},{"i":2,"x":45.5,"y":-29.7},{"i":3,"x":-46.5,"y":-31.7},{"i":4,"x":-45.5,"y":33.5}]},"mark":{"type":"line","color":"white","strokeWidth":7,"strokeCap":"square","strokeJoin":"miter"},"encoding":{"order":{"field":"i"}}},
{"data":{"values":[{"i":0,"x":-40.7,"y":32.4},{"i":1,"x":41.4,"y":30.8},{"i":2,"x":40.7,"y":-29.2},{"i":3,"x":-41.2,"y":-30.3},{"i":4,"x":-40.7,"y":32.4}]},"mark":{"type":"line","color":"black","strokeWidth":8,"strokeCap":"square","strokeJoin":"miter"},"encoding":{"order":{"field":"i"}}},
{"data":{"values":[{"x":-80,"x2":80,"y":60,"y2":60},{"x":80,"x2":80,"y":-60,"y2":60},{"x":-60,"x2":-60,"y":60,"y2":58.4},{"x":-40,"x2":-40,"y":60,"y2":58.4},{"x":-20,"x2":-20,"y":60,"y2":58.4},{"x":0,"x2":0,"y":60,"y2":58.4},{"x":20,"x2":20,"y":60,"y2":58.4},{"x":40,"x2":40,"y":60,"y2":58.4},{"x":60,"x2":60,"y":60,"y2":58.4},{"x":80,"x2":78.3,"y":-40,"y2":-40},{"x":80,"x2":78.3,"y":-20,"y2":-20},{"x":80,"x2":78.3,"y":0,"y2":0},{"x":80,"x2":78.3,"y":20,"y2":20},{"x":80,"x2":78.3,"y":40,"y2":40}]},"mark":{"type":"rule","color":"#222222","strokeWidth":1.5},"encoding":{"x2":{"field":"x2"},"y2":{"field":"y2"}}},
{"data":{"values":[{"i":0,"x":93.1,"y":-76.2},{"i":1,"x":29.0,"y":-12.4},{"i":2,"x":34.1,"y":-14.2},{"i":3,"x":29.0,"y":-12.4},{"i":4,"x":30.2,"y":-17.1}]},"mark":{"type":"line","color":"#8E0A8E","strokeWidth":5,"strokeCap":"round","strokeJoin":"round","clip":false},"encoding":{"order":{"field":"i"}}}
]},
{"width":45,"height":534,"title":{"text":"x 10⁻⁴","anchor":"start","offset":6,"dx":44,"fontSize":26},
"encoding":{"y":{"field":"v","type":"quantitative","scale":{"domain":[-0.56,4.12],"nice":false,"zero":false},"axis":{"orient":"right","values":[0,1,2,3,4],"format":"d","tickSize":-7,"title":null,"labelPadding":14}}},
"layer":[
{"data":{"values":[{"v":-0.48},{"v":-0.32},{"v":-0.16},{"v":0},{"v":0.17},{"v":0.33},{"v":0.49},{"v":0.65},{"v":0.81},{"v":0.97},{"v":1.13},{"v":1.3},{"v":1.46},{"v":1.62},{"v":1.78},{"v":1.94},{"v":2.1},{"v":2.26},{"v":2.43},{"v":2.59},{"v":2.75},{"v":2.91},{"v":3.07},{"v":3.23},{"v":3.39},{"v":3.55},{"v":3.72},{"v":3.88},{"v":4.04}]},"mark":{"type":"rect","height":20,"clip":true},"encoding":{
"color":{"field":"v","type":"quantitative","scale":{"type":"quantize","domain":[-0.56,4.12],"range":["#0000D0","#0000FF","#0020FF","#0040FF","#0060FF","#0080FF","#009FFF","#00BFFF","#00DFFF","#00FFFF","#20FFDF","#40FFBF","#60FFA0","#80FF80","#9FFF60","#BFFF40","#DFFF20","#FFFF00","#FFDF00","#FFBF00","#FF9F00","#FF8000","#FF6000","#FF4000","#FF2000","#FF0000","#DF0000","#BF0000","#9F0000"]},"legend":null}}},
{"data":{"values":[{"b":0,"b2":1,"v":4.12,"v2":4.12},{"b":0,"b2":1,"v":-0.56,"v2":-0.56},{"b":0,"b2":0,"v":-0.56,"v2":4.12},{"b":0,"b2":0.16,"v":0,"v2":0},{"b":0,"b2":0.16,"v":1,"v2":1},{"b":0,"b2":0.16,"v":2,"v2":2},{"b":0,"b2":0.16,"v":3,"v2":3},{"b":0,"b2":0.16,"v":4,"v2":4}]},"mark":{"type":"rule","color":"#222222","strokeWidth":1.5},"encoding":{"x":{"field":"b","type":"quantitative","scale":{"domain":[0,1],"nice":false,"zero":false},"axis":null},"x2":{"field":"b2"},"y2":{"field":"v2"}}}
]}]}
